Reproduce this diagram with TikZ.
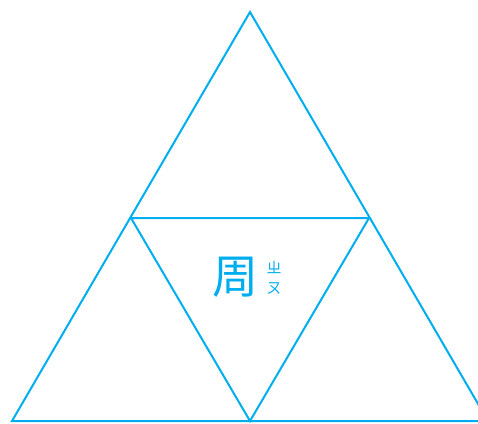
\documentclass[tikz,border=0pt]{standalone}
\usepackage{fontspec}
\usepackage{tikz}
\usetikzlibrary{positioning, calc}
\newfontfamily\cjk{Noto Sans CJK SC}
\definecolor{mycyan}{RGB}{0,174,239}
\tikzset{
  edge/.style={draw=mycyan, line width=2pt, line join=miter},
  hanzi/.style={font=\cjk\fontsize{46}{46}\selectfont, text=mycyan, inner sep=0pt},
  zhuyin/.style={font=\cjk\fontsize{15}{15}\selectfont, text=mycyan, inner sep=0pt}
}
\begin{document}
\begin{tikzpicture}[x=1pt, y=-1pt]
  \useasboundingbox (0,0) rectangle (478,423);

  % Corners of the big triangle
  \coordinate (top) at (250,12);
  \coordinate (bl) at (12,421);
  \coordinate (br) at (488,421);
  \coordinate (ml) at (131,218);
  \coordinate (mr) at (369,218);
  \coordinate (mb) at ($(bl)!0.5!(br)$);

  % Outer and inner triangles
  \draw[edge] (top) -- (bl) -- (br) -- cycle;
  \draw[edge] (ml) -- (mr) -- (mb) -- cycle;

  % Character with its zhuyin
  \node[hanzi] (zhou) at (235,277) {周};
  \node[zhuyin] (zh) at (274,268) {ㄓ};
  \node[zhuyin] (ou) at (274,288) {ㄡ};
\end{tikzpicture}
\end{document}
